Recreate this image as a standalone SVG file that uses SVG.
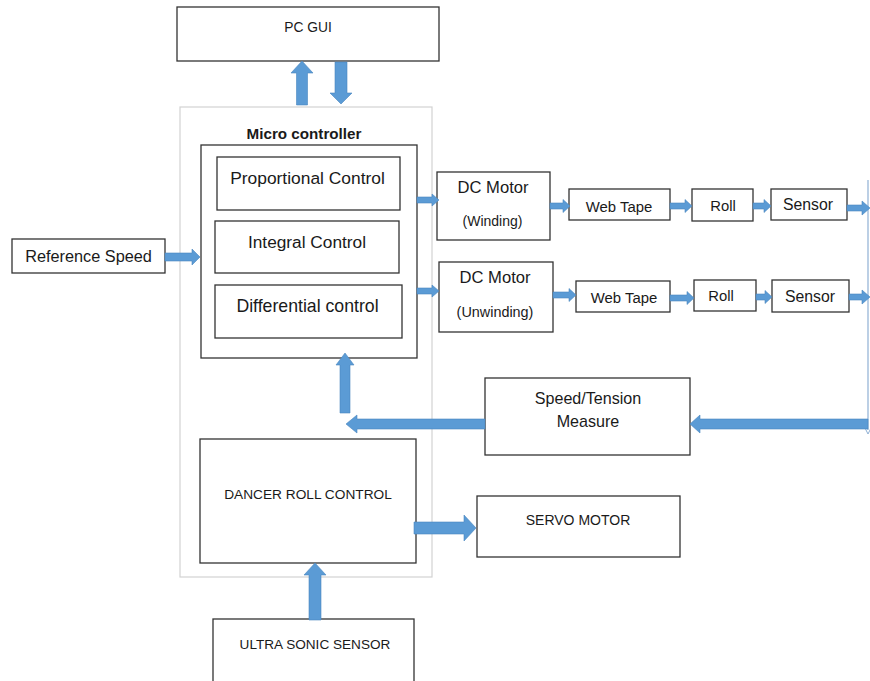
<svg xmlns="http://www.w3.org/2000/svg" width="870" height="681" viewBox="0 0 870 681">
<style>
.box{fill:#ffffff;stroke:#333333;stroke-width:1.3}
.outer{fill:none;stroke:#d2d2d2;stroke-width:1.2}
.arr{fill:#5B9BD5;stroke:#4a86c0;stroke-width:0.6}
text{font-family:"Liberation Sans",Arial,sans-serif;fill:#1a1a1a;text-anchor:middle}
</style>
<rect width="870" height="681" fill="#ffffff"/>
<g id="microcontroller">
<rect class="outer" x="180" y="107" width="252" height="470"/>
<text x="304" y="139" font-size="15.2" font-weight="bold">Micro controller</text>
</g>
<g id="pid">
<rect class="box" x="201" y="145" width="216" height="213"/>
</g>
<g id="pcgui"><rect class="box" x="177" y="7" width="262" height="54"/><text x="308" y="32" font-size="13.8">PC GUI</text></g>
<g id="proportional"><rect class="box" x="217" y="157" width="183" height="53"/><text x="307.5" y="184" font-size="17.4">Proportional Control</text></g>
<g id="integral"><rect class="box" x="215" y="221" width="184" height="52"/><text x="307" y="248" font-size="17.3">Integral Control</text></g>
<g id="differential"><rect class="box" x="215" y="285" width="187" height="53"/><text x="307.5" y="312" font-size="17.7">Differential control</text></g>
<g id="refspeed"><rect class="box" x="12" y="239" width="153" height="34"/><text x="88.5" y="262" font-size="16.3">Reference Speed</text></g>
<g id="dcmotor1"><rect class="box" x="437" y="172" width="113" height="68"/><text x="493" y="193" font-size="16.6">DC Motor</text><text x="492.5" y="226" font-size="14">(Winding)</text></g>
<g id="dcmotor2"><rect class="box" x="439" y="262" width="114" height="70"/><text x="495" y="283" font-size="16.6">DC Motor</text><text x="495" y="317" font-size="14.4">(Unwinding)</text></g>
<g id="webtape1"><rect class="box" x="569" y="189" width="101" height="31"/><text x="619" y="212" font-size="14.9">Web Tape</text></g>
<g id="roll1"><rect class="box" x="692" y="189" width="61" height="32"/><text x="723" y="211" font-size="14.8">Roll</text></g>
<g id="sensor1"><rect class="box" x="771" y="189" width="76" height="31"/><text x="808" y="210" font-size="15.8">Sensor</text></g>
<g id="webtape2"><rect class="box" x="576" y="281" width="94" height="31"/><text x="624" y="303" font-size="14.9">Web Tape</text></g>
<g id="roll2"><rect class="box" x="694" y="280" width="62" height="31"/><text x="721" y="301" font-size="14.8">Roll</text></g>
<g id="sensor2"><rect class="box" x="772" y="280" width="77" height="32"/><text x="810" y="302" font-size="15.8">Sensor</text></g>
<g id="speedtension"><rect class="box" x="485" y="378" width="205" height="77"/><text x="588" y="404" font-size="16.1">Speed/Tension</text><text x="588" y="427" font-size="16.1">Measure</text></g>
<g id="dancer"><rect class="box" x="200" y="439" width="216" height="124"/><text x="308" y="499" font-size="13.7">DANCER ROLL CONTROL</text></g>
<g id="servo"><rect class="box" x="477" y="496" width="203" height="61"/><text x="578" y="525" font-size="14">SERVO MOTOR</text></g>
<g id="ultrasonic"><rect class="box" x="213" y="619" width="201" height="64"/><text x="315" y="649" font-size="13.6">ULTRA SONIC SENSOR</text></g>
<g id="connectors">
<line x1="868" y1="180" x2="868" y2="430" stroke="#8fb0d4" stroke-width="1.2"/>
<path d="M865,428 L868,434 L871,428" fill="none" stroke="#8fb0d4" stroke-width="1"/>
<polygon class="arr" points="296.5,105 296.5,73 291,73 302,61 313,73 307.5,73 307.5,105"/>
<polygon class="arr" points="335,62 347,62 347,93 352,93 341,104 330,93 335,93"/>
<polygon class="arr" points="165,253 192,253 192,249 200,257 192,265 192,261 165,261"/>
<polygon class="arr" points="417,197 432,197 432,194 439,200 432,206 432,203 417,203"/>
<polygon class="arr" points="417,288 432,288 432,285 439,291 432,297 432,294 417,294"/>
<polygon class="arr" points="550,203 563,203 563,199.5 570,206 563,212.5 563,209 550,209"/>
<polygon class="arr" points="670,203 685,203 685,199.5 692,206 685,212.5 685,209 670,209"/>
<polygon class="arr" points="753,203 764,203 764,199.5 771,206 764,212.5 764,209 753,209"/>
<polygon class="arr" points="847,205 862,205 862,201 870,208 862,215 862,211 847,211"/>
<polygon class="arr" points="553,292 569,292 569,288.5 576,295 569,301.5 569,298 553,298"/>
<polygon class="arr" points="670,295 687,295 687,291.5 694,298 687,304.5 687,301 670,301"/>
<polygon class="arr" points="756,294 765,294 765,290.5 772,297 765,303.5 765,300 756,300"/>
<polygon class="arr" points="849,294 862,294 862,290 870,297 862,304 862,300 849,300"/>
<polygon class="arr" points="868,419 700,419 700,415 690,424 700,433 700,429 868,429"/>
<polygon class="arr" points="485,419 357,419 357,415 346,424 357,433 357,429 485,429"/>
<polygon class="arr" points="340,413 340,365 336,365 345,353 354,365 350,365 350,413"/>
<polygon class="arr" points="414,522 464,522 464,515 476,528 464,541 464,534 414,534"/>
<polygon class="arr" points="309,620 309,575 304,575 315,563 326,575 321,575 321,620"/>
</g>
</svg>
